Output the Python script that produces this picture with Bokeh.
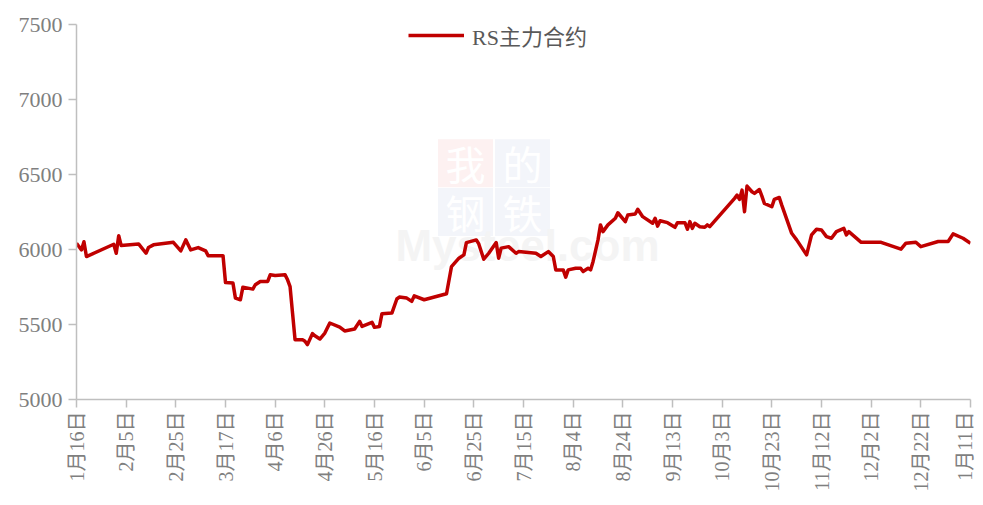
import math
import pandas as pd
from bokeh.plotting import figure
from bokeh.models import FixedTicker, Range1d, Legend, LegendItem, ColumnDataSource
from bokeh.core.properties import value
from bokeh.embed import file_html
from bokeh.resources import INLINE

# ---- data ----
dates = [
    "2021-01-16", "2021-01-18", "2021-01-19", "2021-01-20", "2021-01-31", "2021-02-01", "2021-02-02",
    "2021-02-03", "2021-02-10", "2021-02-13", "2021-02-14", "2021-02-16", "2021-02-24", "2021-02-27",
    "2021-03-01", "2021-03-03", "2021-03-06", "2021-03-09", "2021-03-10", "2021-03-16", "2021-03-17",
    "2021-03-20", "2021-03-21", "2021-03-23", "2021-03-24", "2021-03-28", "2021-03-29", "2021-03-31",
    "2021-04-03", "2021-04-04", "2021-04-06", "2021-04-10", "2021-04-11", "2021-04-12", "2021-04-13",
    "2021-04-14", "2021-04-17", "2021-04-18", "2021-04-19", "2021-04-21", "2021-04-22", "2021-04-24",
    "2021-04-26", "2021-04-28", "2021-05-02", "2021-05-04", "2021-05-08", "2021-05-10", "2021-05-11",
    "2021-05-15", "2021-05-16", "2021-05-18", "2021-05-19", "2021-05-23", "2021-05-25", "2021-05-26",
    "2021-05-29", "2021-05-31", "2021-06-01", "2021-06-05", "2021-06-14", "2021-06-16", "2021-06-19",
    "2021-06-21", "2021-06-22", "2021-06-26", "2021-06-27", "2021-06-29", "2021-07-01", "2021-07-04",
    "2021-07-05", "2021-07-06", "2021-07-09", "2021-07-12", "2021-07-13", "2021-07-20", "2021-07-22",
    "2021-07-25", "2021-07-27", "2021-07-28", "2021-07-31", "2021-08-01", "2021-08-02", "2021-08-05",
    "2021-08-07", "2021-08-08", "2021-08-10", "2021-08-11", "2021-08-12", "2021-08-14", "2021-08-15",
    "2021-08-16", "2021-08-18", "2021-08-21", "2021-08-22", "2021-08-25", "2021-08-26", "2021-08-29",
    "2021-08-30", "2021-09-01", "2021-09-05", "2021-09-06", "2021-09-07", "2021-09-08", "2021-09-11",
    "2021-09-14", "2021-09-15", "2021-09-18", "2021-09-19", "2021-09-20", "2021-09-21", "2021-09-22",
    "2021-09-24", "2021-09-26", "2021-09-27", "2021-09-28", "2021-10-08", "2021-10-09", "2021-10-10",
    "2021-10-11", "2021-10-12", "2021-10-13", "2021-10-15", "2021-10-16", "2021-10-18", "2021-10-19",
    "2021-10-20", "2021-10-23", "2021-10-24", "2021-10-26", "2021-10-27", "2021-10-31", "2021-11-02",
    "2021-11-06", "2021-11-08", "2021-11-10", "2021-11-12", "2021-11-14", "2021-11-16", "2021-11-18",
    "2021-11-21", "2021-11-22", "2021-11-23", "2021-11-28", "2021-12-06", "2021-12-14", "2021-12-16",
    "2021-12-20", "2021-12-22", "2021-12-29", "2022-01-02", "2022-01-04", "2022-01-08", "2022-01-11",
]
prices = [
    6042, 5997, 6052, 5953, 6035, 5975, 6092,
    6026, 6037, 5975, 6013, 6031, 6048, 5991,
    6064, 5997, 6013, 5991, 5959, 5959, 5780,
    5776, 5676, 5665, 5749, 5736, 5765, 5787,
    5787, 5831, 5826, 5831, 5798, 5753, 5576,
    5399, 5399, 5388, 5366, 5439, 5425, 5403,
    5443, 5510, 5483, 5457, 5470, 5521, 5487,
    5514, 5481, 5487, 5572, 5576, 5670, 5683,
    5676, 5654, 5691, 5665, 5705, 5886, 5942,
    5964, 6046, 6064, 6037, 5935, 5975, 6046,
    5942, 6009, 6019, 5975, 5986, 5975, 5953,
    5986, 5953, 5864, 5864, 5816, 5864, 5875,
    5875, 5853, 5875, 5864, 5919, 6064, 6164,
    6119, 6164, 6208, 6245, 6186, 6230, 6237,
    6268, 6219, 6175, 6208, 6156, 6192, 6179,
    6148, 6179, 6179, 6135, 6186, 6141, 6175,
    6152, 6148, 6164, 6152, 6341, 6363, 6334,
    6396, 6252, 6423, 6385, 6374, 6400, 6356,
    6307, 6285, 6334, 6347, 6296, 6108, 6064,
    5964, 6097, 6135, 6130, 6086, 6075, 6119,
    6141, 6097, 6119, 6048, 6048, 6002, 6042,
    6048, 6019, 6053, 6053, 6104, 6075, 6042,
]
start_date = "2021-01-16"
tick_step_days = 20
tick_labels = ["1月16日", "2月5日", "2月25日", "3月17日", "4月6日", "4月26日", "5月16日",
               "6月5日", "6月25日", "7月15日", "8月4日", "8月24日", "9月13日", "10月3日",
               "10月23日", "11月12日", "12月2日", "12月22日", "1月11日"]
y_ticks = [5000, 5500, 6000, 6500, 7000, 7500]
series_name = "RS主力合约"

# ---- build ----
t0 = pd.Timestamp(start_date)
day = [(pd.Timestamp(d) - t0).days for d in dates]
tick_pos = [i * tick_step_days for i in range(len(tick_labels))]

serif = "Liberation Serif, Noto Sans CJK SC"
gray = "#7f7f7f"

p = figure(width=975, height=494, output_backend="svg", toolbar_location=None,
           x_range=Range1d(tick_pos[0], tick_pos[-1]), y_range=Range1d(y_ticks[0], y_ticks[-1]),
           min_border_left=76, min_border_right=5, min_border_top=24, min_border_bottom=90)
p.outline_line_color = None
p.grid.visible = False
p.background_fill_color = "white"
p.border_fill_color = "white"

# faint watermark (screen-sized boxes placed via data coordinates)
def dx(px):
    return (px - 76) / 2.4833

def dy(py):
    return 5000 + (400 - py) * 6.649

wm_x = [dx(465), dx(522), dx(465), dx(522)]
wm_y = [dy(163), dy(163), dy(212), dy(212)]
p.rect(x=wm_x, y=wm_y, width=55, height=48, width_units="screen", height_units="screen",
       fill_color=["#fdf1f1", "#f3f5fa", "#f3f5fa", "#f3f5fa"], line_color=None)
p.text(x=wm_x, y=wm_y, text=["我", "的", "钢", "铁"], text_align="center", text_baseline="middle",
       text_font=value("Noto Sans CJK SC"), text_font_size="40px", text_color="#ffffff")
p.text(x=[dx(527)], y=[dy(246)], text=["Mysteel.com"],
       text_align="center", text_baseline="middle", text_font=value("Liberation Sans"),
       text_font_size="44px", text_font_style="bold", text_color="#f4f4f4")

src = ColumnDataSource(dict(day=day, price=prices))
r = p.line("day", "price", source=src, line_color="#c00000", line_width=3.5, line_join="round")

# axes
p.xaxis.ticker = FixedTicker(ticks=tick_pos)
p.xaxis.major_label_overrides = {t: lab for t, lab in zip(tick_pos, tick_labels)}
p.xaxis.major_label_orientation = math.pi / 2
p.yaxis.ticker = FixedTicker(ticks=y_ticks)
for ax in (p.xaxis[0], p.yaxis[0]):
    ax.axis_line_color = "#bfbfbf"
    ax.axis_line_width = 1.5
    ax.major_tick_line_color = "#bfbfbf"
    ax.major_tick_line_width = 1.5
    ax.major_tick_in = 0
    ax.major_tick_out = 8
    ax.minor_tick_line_color = None
    ax.major_label_text_font = serif
    ax.major_label_text_color = gray
p.xaxis.major_label_text_font_size = "20px"
p.xaxis.major_label_standoff = 4
p.yaxis.major_label_text_font_size = "22px"
p.yaxis.major_label_standoff = 6

legend = Legend(items=[LegendItem(label=series_name, renderers=[r])],
                location=(332, 348), orientation="horizontal",
                border_line_color=None, background_fill_alpha=0,
                padding=0, margin=0, glyph_width=56, glyph_height=20,
                label_standoff=8, label_text_font=serif, label_text_font_size="22px",
                label_text_color="#595959")
p.add_layout(legend)

open("out.html", "w").write(file_html(p, INLINE))
